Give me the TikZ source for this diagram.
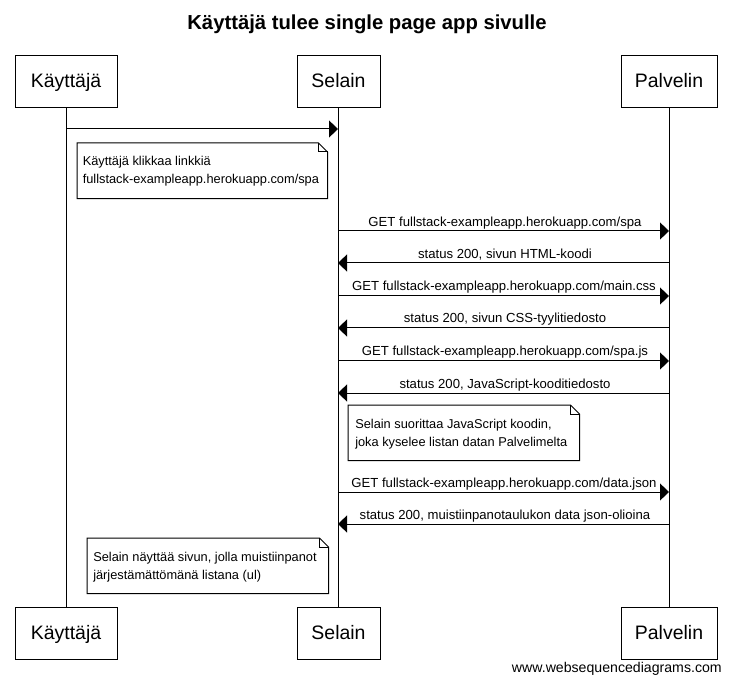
\documentclass[tikz,border=0pt]{standalone}
\usepackage{fontspec}
\setmainfont{Liberation Sans}
\usetikzlibrary{arrows.meta,calc}
\tikzset{
  part/.style={draw, line width=0.75pt, fill=white, minimum height=39pt, inner sep=0pt,
    text height=9pt, text depth=0pt, font=\fontsize{14.6}{17}\selectfont},
  life/.style={line width=0.75pt},
  arr/.style={line width=0.75pt, -{Triangle[length=6.75pt,width=12.75pt]}},
  msg/.style={font=\fontsize{9.85}{12}\selectfont, anchor=base, inner sep=0pt},
  notebox/.style={anchor=north west, inner sep=0pt, draw=none},
  notedraw/.style={line width=0.75pt, fill=white},
  notetext/.style={font=\fontsize{9.6}{13.5}\selectfont, anchor=base west, inner sep=0pt},
}
\newcommand{\twolines}[2]{\begin{tabular}[t]{@{}l@{}}#1\\#2\end{tabular}}
\newcommand{\drawnote}[1]{%
  \draw[notedraw] (#1.north west) -- ($(#1.north east)+(-9,0)$) -- ($(#1.north east)+(0,9)$)
     -- (#1.south east) -- (#1.south west) -- cycle;
  \draw[line width=0.75pt] ($(#1.north east)+(-9,0)$) -- ($(#1.north east)+(-9,9)$) -- ($(#1.north east)+(0,9)$);}
\begin{document}
\begin{tikzpicture}[x=0.75pt,y=-0.75pt]
\useasboundingbox[fill=white] (0,0) rectangle (732,684);

% title
\node[anchor=base, inner sep=0pt, font=\fontsize{15.2}{18}\selectfont\bfseries] (title) at (367,30) {Käyttäjä tulee single page app sivulle};

% participants
\node[part, minimum width=76.5pt] (kt) at (66,82) {Käyttäjä};
\node[part, minimum width=62.25pt] (st) at (338.5,82) {Selain};
\node[part, minimum width=72pt] (pt) at (669,82) {Palvelin};
\node[part, minimum width=76.5pt] (kb) at (66,633) {Käyttäjä};
\node[part, minimum width=62.25pt] (sb) at (338.5,633) {Selain};
\node[part, minimum width=72pt] (pb) at (669,633) {Palvelin};

% lifelines
\draw[life] (kt.south) -- (kb.north);
\draw[life] (st.south) -- (sb.north);
\draw[life] (pt.south) -- (pb.north);

% message end points
\coordinate (k1) at (66,129);   \coordinate (s1) at (338,129);
\coordinate (s2) at (338,231);  \coordinate (p2) at (669,231);
\coordinate (p3) at (669,263);  \coordinate (s3) at (338,263);
\coordinate (s4) at (338,296);  \coordinate (p4) at (669,296);
\coordinate (p5) at (669,328);  \coordinate (s5) at (338,328);
\coordinate (s6) at (338,361);  \coordinate (p6) at (669,361);
\coordinate (p7) at (669,393);  \coordinate (s7) at (338,393);
\coordinate (s8) at (338,492);  \coordinate (p8) at (669,492);
\coordinate (p9) at (669,524);  \coordinate (s9) at (338,524);

\draw[arr] (k1) -- (s1);

% note 1
\node[notebox, minimum width=187.5pt, minimum height=41.25pt] (n1) at (77,143) {};
\drawnote{n1}
\node[notetext] (n1t) at (82.5,166) {\twolines{Käyttäjä klikkaa linkkiä}{fullstack-exampleapp.herokuapp.com/spa}};

\draw[arr] (s2) -- (p2);
\node[msg] (m2) at (505,226.5) {GET fullstack-exampleapp.herokuapp.com/spa};
\draw[arr] (p3) -- (s3);
\node[msg] (m3) at (505,258.5) {status 200, sivun HTML-koodi};
\draw[arr] (s4) -- (p4);
\node[msg] (m4) at (504,291) {GET fullstack-exampleapp.herokuapp.com/main.css};
\draw[arr] (p5) -- (s5);
\node[msg] (m5) at (505,323) {status 200, sivun CSS-tyylitiedosto};
\draw[arr] (s6) -- (p6);
\node[msg] (m6) at (505,356) {GET fullstack-exampleapp.herokuapp.com/spa.js};
\draw[arr] (p7) -- (s7);
\node[msg] (m7) at (505,388) {status 200, JavaScript-kooditiedosto};

% note 2
\node[notebox, minimum width=173.25pt, minimum height=41.25pt] (n2) at (348,405) {};
\drawnote{n2}
\node[notetext] (n2t) at (355,428) {\twolines{Selain suorittaa JavaScript koodin,}{joka kyselee listan datan Palvelimelta}};

\draw[arr] (s8) -- (p8);
\node[msg] (m8) at (504,487.5) {GET fullstack-exampleapp.herokuapp.com/data.json};
\draw[arr] (p9) -- (s9);
\node[msg] (m9) at (505,519.5) {status 200, muistiinpanotaulukon data json-olioina};

% note 3
\node[notebox, minimum width=180.75pt, minimum height=41.25pt] (n3) at (87,538) {};
\drawnote{n3}
\node[notetext] (n3t) at (93,561) {\twolines{Selain näyttää sivun, jolla muistiinpanot}{järjestämättömänä listana (ul)}};

% footer
\node[anchor=base east, inner sep=0pt, font=\fontsize{10.6}{12}\selectfont] (foot) at (722,672) {www.websequencediagrams.com};
\end{tikzpicture}
\end{document}
